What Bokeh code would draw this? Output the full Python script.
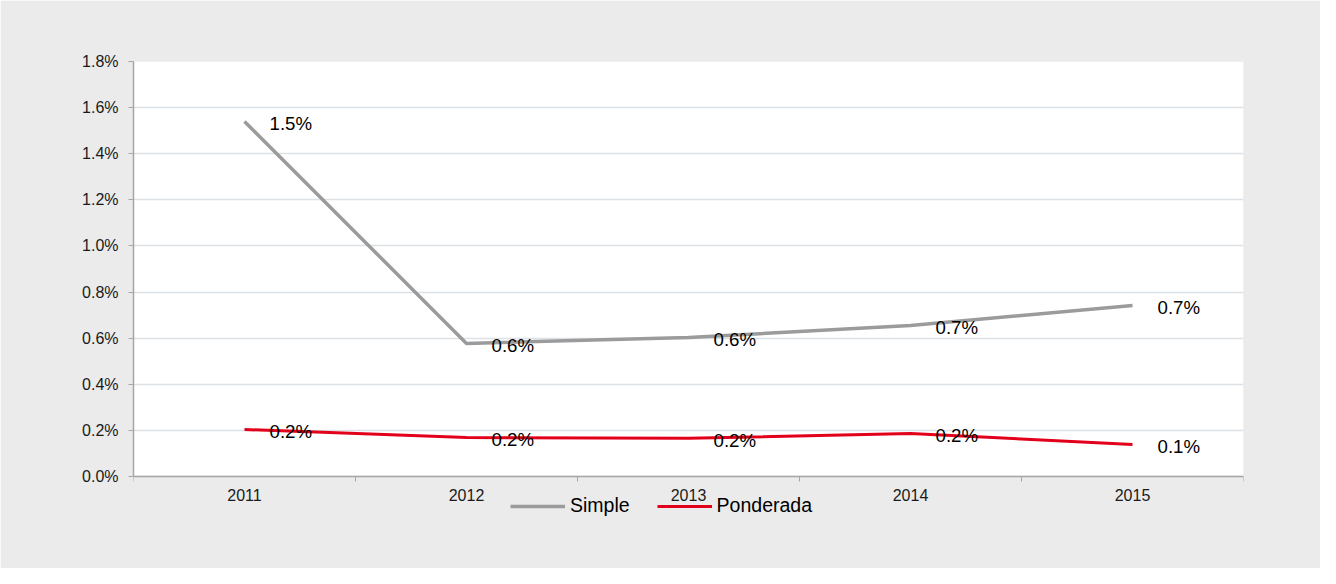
from bokeh.plotting import figure
from bokeh.models import (FixedTicker, PrintfTickFormatter, Range1d, Legend,
                          LegendItem, ColumnDataSource, BoxAnnotation)
from bokeh.embed import file_html
from bokeh.resources import INLINE
from bokeh.core.properties import value

# ---- data ----
years = ["2011", "2012", "2013", "2014", "2015"]
simple = [1.54, 0.577, 0.603, 0.655, 0.742]
ponderada = [0.204, 0.169, 0.166, 0.186, 0.139]
y_ticks = [0.0, 0.2, 0.4, 0.6, 0.8, 1.0, 1.2, 1.4, 1.6, 1.8]

FONT = "Liberation Sans"
GRAY = "#9B9B9B"
RED = "#E2001A"
BG = "#EBEBEB"

# ---- layout geometry (pixels) ----
W, H = 1320, 568
BORDER_L, BORDER_R, BORDER_T, BORDER_B = 133, 77, 61, 40
PLOT_H = 415                       # height of the white plotting area
frame_h = H - BORDER_T - BORDER_B
extra = (frame_h - PLOT_H) / PLOT_H * (y_ticks[-1] - y_ticks[0])

xs = list(range(1, len(years) + 1))
src_s = ColumnDataSource(dict(x=xs, y=simple, t=[f"{v:.1f}%" for v in simple]))
src_p = ColumnDataSource(dict(x=xs, y=ponderada, t=[f"{v:.1f}%" for v in ponderada]))

p = figure(width=W, height=H, output_backend="svg", toolbar_location=None,
           x_range=Range1d(0.5, len(years) + 0.5),
           y_range=Range1d(y_ticks[0] - extra, y_ticks[-1]),
           min_border_left=BORDER_L, min_border_right=BORDER_R,
           min_border_top=BORDER_T, min_border_bottom=BORDER_B)
p.border_fill_color = BG
p.background_fill_color = BG
p.outline_line_color = BG
p.outline_line_width = 1

# white plotting area
p.add_layout(BoxAnnotation(bottom=y_ticks[0], top=y_ticks[-1], fill_color="white",
                           fill_alpha=1, line_color=None, level="image"), "center")

# grid
p.xgrid.grid_line_color = None
p.ygrid.ticker = FixedTicker(ticks=y_ticks)
p.ygrid.grid_line_color = "#DCE1E6"
p.ygrid.grid_line_width = 1.5

# y axis
p.yaxis.ticker = FixedTicker(ticks=y_ticks)
p.yaxis.bounds = (y_ticks[0], y_ticks[-1])
p.yaxis.formatter = PrintfTickFormatter(format="%.1f%%")
p.yaxis.axis_line_color = "#A6A6A6"
p.yaxis.axis_line_width = 1.5
p.yaxis.major_tick_line_color = "#A6A6A6"
p.yaxis.major_tick_out = 5
p.yaxis.major_tick_in = 0
p.yaxis.minor_tick_line_color = None
p.yaxis.major_label_standoff = 10
p.yaxis.major_label_text_font = FONT
p.yaxis.major_label_text_font_size = "16px"
p.yaxis.major_label_text_color = "#1A1A1A"

# x axis: at y=0, labels at centres, ticks at category boundaries
p.xaxis.fixed_location = y_ticks[0]
p.xaxis.ticker = FixedTicker(ticks=xs, minor_ticks=[x - 0.5 for x in xs] + [xs[-1] + 0.5])
p.xaxis.major_label_overrides = {x: y for x, y in zip(xs, years)}
p.xaxis.axis_line_color = "#A6A6A6"
p.xaxis.axis_line_width = 1.5
p.xaxis.major_tick_line_color = None
p.xaxis.major_tick_out = 0
p.xaxis.major_tick_in = 0
p.xaxis.minor_tick_line_color = "#A6A6A6"
p.xaxis.minor_tick_out = 5
p.xaxis.minor_tick_in = 0
p.xaxis.major_label_standoff = 7
p.xaxis.major_label_text_font = FONT
p.xaxis.major_label_text_font_size = "16px"
p.xaxis.major_label_text_color = "#1A1A1A"

# lines
r_s = p.line("x", "y", source=src_s, line_color=GRAY, line_width=3.5)
r_p = p.line("x", "y", source=src_p, line_color=RED, line_width=3)

# data labels
for src in (src_s, src_p):
    p.text("x", "y", text="t", source=src, x_offset=25, y_offset=2,
           text_align="left", text_baseline="middle",
           text_font=value(FONT), text_font_size="18.67px", text_color="black")

legend = Legend(items=[LegendItem(label="Simple", renderers=[r_s]),
                       LegendItem(label="Ponderada", renderers=[r_p])],
                orientation="horizontal", location=(377, 11),
                glyph_width=55, glyph_height=20, label_height=20,
                label_standoff=5, spacing=27, padding=0, margin=0,
                border_line_color=None, background_fill_alpha=0,
                label_text_font=FONT, label_text_font_size="19.5px",
                label_text_color="black")
p.add_layout(legend, "center")

open("out.html", "w").write(file_html(p, INLINE))
